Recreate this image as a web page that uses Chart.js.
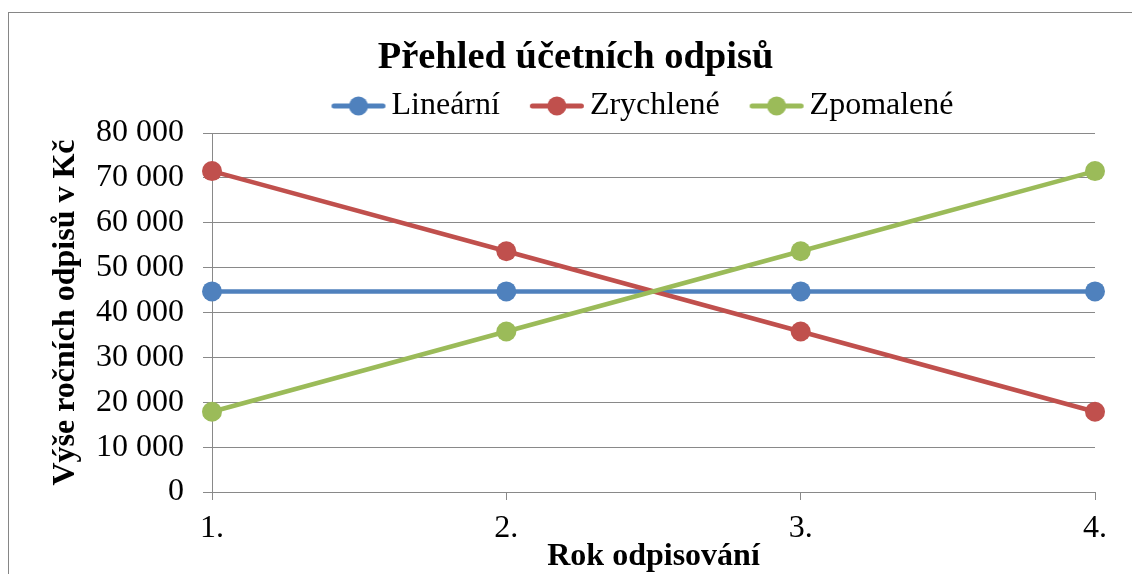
<!DOCTYPE html>
<html><head><meta charset="utf-8">
<script src="https://cdn.jsdelivr.net/npm/chart.js@4/dist/chart.umd.min.js"></script>
<style>html,body{margin:0;padding:0;background:#fff;}canvas{display:block;}</style>
</head><body>
<canvas id="c" width="1132" height="574"></canvas>
<script>
const categories = ['1.', '2.', '3.', '4.'];
const linearni = [44700, 44700, 44700, 44700];
const zrychlene = [71520, 53640, 35760, 17880];
const zpomalene = [17880, 35760, 53640, 71520];
const yTickValues = [0, 10000, 20000, 30000, 40000, 50000, 60000, 70000, 80000];
const seriesNames = ['Lineární', 'Zrychlené', 'Zpomalené'];
const seriesColors = ['#4F81BD', '#C0504D', '#9BBB59'];
const chartTitle = 'Přehled účetních odpisů';
const xTitle = 'Rok odpisování';
const yTitle = 'Výše ročních odpisů v Kč';

const FONT = "'Liberation Serif', 'Times New Roman', serif";
const GRID = '#898989';

function legendIcon(color) {
  const c = document.createElement('canvas');
  c.width = 70; c.height = 22;
  const g = c.getContext('2d');
  g.strokeStyle = color; g.lineWidth = 5; g.lineCap = 'round';
  g.beginPath(); g.moveTo(4.5, 11); g.lineTo(53.5, 11); g.stroke();
  g.fillStyle = color; g.beginPath(); g.arc(29, 11, 9.5, 0, Math.PI * 2); g.fill();
  return c;
}
const legendIcons = seriesColors.map(legendIcon);

function makeSpacer(position, size, weight) {
  return {
    position, weight, fullSize: false, options: { stackWeight: 1 },
    left: 0, top: 0, right: 0, bottom: 0, width: 0, height: 0,
    isHorizontal() { return position === 'top' || position === 'bottom'; },
    update(maxWidth, maxHeight) {
      if (this.isHorizontal()) { this.width = maxWidth; this.height = size; }
      else { this.width = size; this.height = maxHeight; }
    },
    getPadding() { return {left: 0, top: 0, right: 0, bottom: 0}; },
    draw() {}
  };
}
const spacers = {
  id: 'spacers',
  beforeInit(chart) {
    Chart.layouts.addBox(chart, makeSpacer('top', 1, 100));
    Chart.layouts.addBox(chart, makeSpacer('right', 37, 100));
  }
};
const frame = {
  id: 'frame',
  beforeDraw(chart) {
    const ctx = chart.ctx;
    ctx.save();
    ctx.fillStyle = '#fff';
    ctx.fillRect(0, 0, chart.width, chart.height);
    ctx.strokeStyle = '#868686';
    ctx.lineWidth = 1;
    ctx.strokeRect(8.5, 12.5, 1300, 800);
    ctx.restore();
  }
};

const fmt = v => String(v).replace(/\B(?=(\d{3})+(?!\d))/g, ' ');
const seriesData = [linearni, zrychlene, zpomalene];

new Chart(document.getElementById('c'), {
  type: 'line',
  data: {
    labels: categories,
    datasets: seriesData.map((d, i) => ({
      label: seriesNames[i],
      data: d,
      borderColor: seriesColors[i],
      backgroundColor: seriesColors[i],
      borderWidth: 4.5,
      pointRadius: 10,
      pointHoverRadius: 10,
      pointBorderWidth: 0,
      pointBackgroundColor: seriesColors[i],
      tension: 0,
      fill: false,
      clip: false,
      order: 2 - i
    }))
  },
  options: {
    responsive: false,
    animation: false,
    devicePixelRatio: 1,
    layout: { padding: { left: 19, right: 0, top: 0, bottom: 0 } },
    plugins: {
      tooltip: { enabled: false },
      title: {
        display: true, text: chartTitle, color: '#000',
        font: { family: FONT, size: 38.5, weight: 'bold', lineHeight: 1 },
        padding: { top: 39.25, bottom: -39.75 }
      },
      legend: {
        display: true, position: 'top', fullSize: false,
        labels: {
          color: '#000', font: { family: FONT, size: 32 },
          usePointStyle: true, pointStyleWidth: 22, padding: 52,
          generateLabels(chart) {
            return chart.data.datasets.map((ds, i) => ({
              text: ds.label, fillStyle: ds.borderColor, strokeStyle: ds.borderColor,
              lineWidth: 0, pointStyle: legendIcons[i], hidden: false, datasetIndex: i, fontColor: '#000'
            }));
          }
        }
      }
    },
    scales: {
      x: {
        type: 'category', offset: false,
        grid: { display: true, drawOnChartArea: false, drawTicks: true, tickLength: 8, color: GRID },
        border: { display: true, color: GRID },
        ticks: { color: '#000', font: { family: FONT, size: 32 }, padding: 9, maxRotation: 0, autoSkip: false },
        title: { display: true, text: xTitle, color: '#000', font: { family: FONT, size: 32, weight: 'bold', lineHeight: 1 }, padding: { top: 0, bottom: 1 } },
        afterFit(scale) { scale.height = 82; }
      },
      y: {
        min: 0, max: 80000,
        afterBuildTicks(scale) { scale.ticks = yTickValues.map(v => ({ value: v })); },
        grid: { color: GRID, tickLength: 9, drawTicks: true },
        border: { display: true, color: GRID },
        ticks: { color: '#000', font: { family: FONT, size: 32 }, padding: 19, callback: v => fmt(v) },
        title: { display: true, text: yTitle, color: '#000', font: { family: FONT, size: 32, weight: 'bold', lineHeight: 1 }, padding: { top: 31, bottom: 0 } },
        afterFit(scale) { scale.width = 193; }
      }
    }
  },
  plugins: [frame, spacers]
});
</script>
</body></html>
